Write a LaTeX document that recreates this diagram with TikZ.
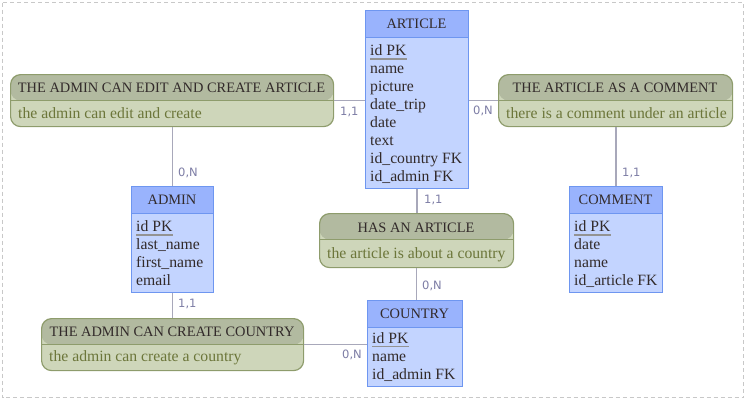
\documentclass[tikz,border=0pt]{standalone}
\usepackage{fontspec}
\setmainfont{Liberation Serif}
\newfontfamily\cardfont{DejaVu Sans}
\usetikzlibrary{calc}
\definecolor{entborder}{RGB}{110,150,240}
\definecolor{enthead}{RGB}{153,179,253}
\definecolor{entbody}{RGB}{195,212,255}
\definecolor{relborder}{RGB}{142,156,108}
\definecolor{relhead}{RGB}{178,186,160}
\definecolor{relbody}{RGB}{206,214,186}
\definecolor{reltext}{RGB}{108,118,58}
\definecolor{darktext}{RGB}{50,42,42}
\definecolor{conncol}{RGB}{168,168,186}
\definecolor{cardcol}{RGB}{125,125,165}
\definecolor{framecol}{RGB}{200,200,200}
\tikzset{
  ent/.style={draw=entborder, fill=entbody, line width=1.2pt, inner sep=0pt, anchor=north west,
    path picture={\fill[enthead] (path picture bounding box.north west) rectangle ([yshift=-27pt]path picture bounding box.north east);
      \draw[entborder, line width=1pt] ([yshift=-27pt]path picture bounding box.north west) -- ([yshift=-27pt]path picture bounding box.north east);}},
  rel/.style={draw=relborder, fill=relbody, line width=1.2pt, inner sep=0pt, anchor=north west, rounded corners=10pt,
    path picture={\fill[relhead] (path picture bounding box.north west) rectangle ([yshift=-26pt]path picture bounding box.north east);
      \draw[relborder, line width=1pt] ([yshift=-26pt]path picture bounding box.north west) -- ([yshift=-26pt]path picture bounding box.north east);}},
  enttitle/.style={inner sep=0pt, anchor=center, text=darktext, font=\fontsize{14.4}{16}\selectfont},
  reltitle/.style={inner sep=0pt, anchor=center, text=darktext, font=\fontsize{14.4}{16}\selectfont},
  relsub/.style={inner sep=0pt, anchor=mid west, text=reltext, font=\fontsize{15.7}{18}\selectfont},
  attr/.style={inner sep=0pt, anchor=mid west, text=darktext, font=\fontsize{15.7}{18}\selectfont},
  pkline/.style={draw=gray!85, line width=1.6pt},
  conn/.style={draw=conncol, line width=1.5pt},
  card/.style={inner sep=0pt, anchor=mid west, text=cardcol, font=\cardfont\fontsize{11.5}{13}\selectfont},
}
\begin{document}
\begin{tikzpicture}[x=1pt,y=-1pt]
\useasboundingbox (0,0) rectangle (746,402);
\draw[framecol, line width=1pt, dash pattern=on 4pt off 3pt] (2.5,2.5) rectangle (743.5,397.5);

\node[ent, minimum width=103pt, minimum height=178pt] (article) at (365,10) {};
\node[ent, minimum width=82pt, minimum height=106pt] (admin) at (131,186) {};
\node[ent, minimum width=93pt, minimum height=106pt] (comment) at (569,186) {};
\node[ent, minimum width=95pt, minimum height=86pt] (country) at (367,300) {};
\node[rel, minimum width=323pt, minimum height=52pt] (rel1) at (10,74) {};
\node[rel, minimum width=234pt, minimum height=52pt] (rel2) at (498,74) {};
\node[rel, minimum width=194pt, minimum height=54pt] (has) at (319,213) {};
\node[rel, minimum width=262pt, minimum height=52pt] (rel3) at (41,318) {};

\draw[conn] (rel1.east) -- (rel1.east -| article.west);
\draw[conn] (rel2.west -| article.east) -- (rel2.west);
\draw[conn] (admin.north |- rel1.south) -- (admin.north);
\draw[conn] (comment.north |- rel2.south) -- (comment.north);
\draw[conn] (article.south) -- (article.south |- has.north);
\draw[conn] (has.south) -- (has.south |- country.north);
\draw[conn] (admin.south) -- (admin.south |- rel3.north);
\draw[conn] (rel3.east) -- (rel3.east -| country.west);

% ARTICLE
\node[enttitle] (articleT) at (416.5,23.5) {ARTICLE};
\node[attr] (a1) at (370,53.5) {id PK};
\draw[pkline] ([yshift=-3pt]a1.base west) -- ([yshift=-3pt]a1.base east);
\node[attr] (a2) at (370,71.5) {name};
\node[attr] (a3) at (370,89.5) {picture};
\node[attr] (a4) at (370,107) {date\_trip};
\node[attr] (a5) at (370,125) {date};
\node[attr] (a6) at (370,143) {text};
\node[attr] (a7) at (370,161) {id\_country FK};
\node[attr] (a8) at (370,179) {id\_admin FK};

% ADMIN
\node[enttitle] (adminT) at (172,200) {ADMIN};
\node[attr] (d1) at (136,229.5) {id PK};
\draw[pkline] ([yshift=-3pt]d1.base west) -- ([yshift=-3pt]d1.base east);
\node[attr] (d2) at (136,247.5) {last\_name};
\node[attr] (d3) at (136,265.5) {first\_name};
\node[attr] (d4) at (136,283) {email};

% COMMENT
\node[enttitle] (commentT) at (615.5,200) {COMMENT};
\node[attr] (c1) at (574,229.5) {id PK};
\draw[pkline] ([yshift=-3pt]c1.base west) -- ([yshift=-3pt]c1.base east);
\node[attr] (c2) at (574,247.5) {date};
\node[attr] (c3) at (574,265.5) {name};
\node[attr] (c4) at (574,283) {id\_article FK};

% COUNTRY
\node[enttitle] (countryT) at (414.5,313.5) {COUNTRY};
\node[attr] (k1) at (372,341) {id PK};
\draw[pkline] ([yshift=-3pt]k1.base west) -- ([yshift=-3pt]k1.base east);
\node[attr] (k2) at (372,359) {name};
\node[attr] (k3) at (372,377) {id\_admin FK};

% relationships
\node[reltitle] (rel1T) at (171.5,87.5) {THE ADMIN CAN EDIT AND CREATE ARTICLE};
\node[relsub] (rel1S) at (18,116.5) {the admin can edit and create};
\node[reltitle] (rel2T) at (615,87.5) {THE ARTICLE AS A COMMENT};
\node[relsub] (rel2S) at (506,116.5) {there is a comment under an article};
\node[reltitle] (hasT) at (416,227.5) {HAS AN ARTICLE};
\node[relsub] (hasS) at (327,256.5) {the article is about a country};
\node[reltitle] (rel3T) at (172,331.5) {THE ADMIN CAN CREATE COUNTRY};
\node[relsub] (rel3S) at (49,359.5) {the admin can create a country};

% cardinalities
\node[card] (l1) at (340,113) {1,1};
\node[card] (l2) at (473,112) {0,N};
\node[card] (l3) at (178,174) {0,N};
\node[card] (l4) at (622,174) {1,1};
\node[card] (l5) at (424,201) {1,1};
\node[card] (l6) at (422,287) {0,N};
\node[card] (l7) at (178,305) {1,1};
\node[card] (l8) at (342,356) {0,N};
\end{tikzpicture}
\end{document}
